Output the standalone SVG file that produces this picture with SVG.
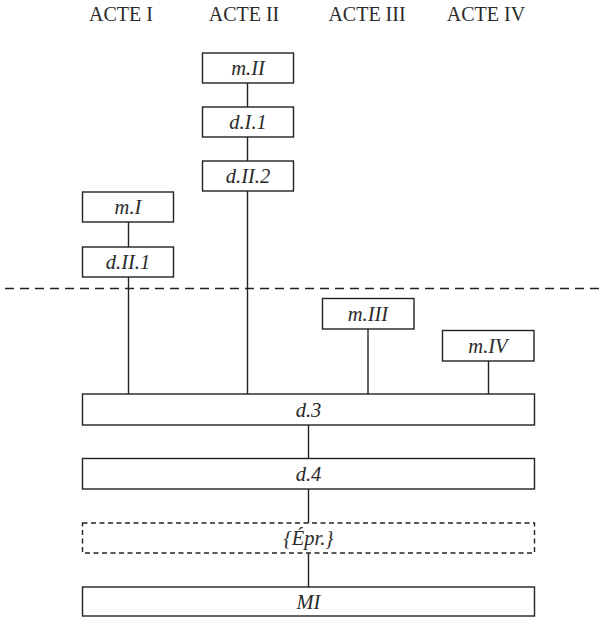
<svg xmlns="http://www.w3.org/2000/svg" width="605" height="617" viewBox="0 0 605 617">
<style>
.box{fill:#fff;stroke:#222;stroke-width:1.4}
.dbox{fill:#fff;stroke:#222;stroke-width:1.4;stroke-dasharray:5 3.5}
.ln{stroke:#222;stroke-width:1.4;fill:none}
.hd{font-family:'Liberation Serif','Times New Roman','DejaVu Serif',serif;font-size:20px;fill:#2a2a2a;text-anchor:middle}
.lb{font-family:'Liberation Serif','Times New Roman','DejaVu Serif',serif;font-style:italic;font-size:20.5px;fill:#2a2a2a;text-anchor:middle}
</style>
<rect width="605" height="617" fill="#fff"/>
<g id="headers">
<text class="hd" x="121" y="21">ACTE I</text>
<text class="hd" x="244" y="21">ACTE II</text>
<text class="hd" x="367" y="21">ACTE III</text>
<text class="hd" x="486" y="21">ACTE IV</text>
</g>
<g id="divider">
<line x1="5" y1="288.5" x2="605" y2="288.5" stroke="#222" stroke-width="1.4" stroke-dasharray="9 6"/>
</g>
<g id="connectors">
<line class="ln" x1="128.5" y1="222" x2="128.5" y2="247"/>
<line class="ln" x1="128.5" y1="277" x2="128.5" y2="394"/>
<line class="ln" x1="247.5" y1="83" x2="247.5" y2="107"/>
<line class="ln" x1="247.5" y1="137" x2="247.5" y2="161"/>
<line class="ln" x1="247.5" y1="191" x2="247.5" y2="394"/>
<line class="ln" x1="368" y1="329" x2="368" y2="394"/>
<line class="ln" x1="488.5" y1="361" x2="488.5" y2="394"/>
<line class="ln" x1="308.5" y1="425" x2="308.5" y2="458"/>
<line class="ln" x1="308.5" y1="489" x2="308.5" y2="523"/>
<line class="ln" x1="308.5" y1="553" x2="308.5" y2="587"/>
</g>
<g id="mII"><rect class="box" x="202.5" y="53" width="91" height="30"/><text class="lb" x="248" y="75">m.II</text></g>
<g id="dI1"><rect class="box" x="202.5" y="107" width="91" height="30"/><text class="lb" x="248" y="129">d.I.1</text></g>
<g id="dII2"><rect class="box" x="202.5" y="161" width="91" height="30"/><text class="lb" x="248" y="183">d.II.2</text></g>
<g id="mI"><rect class="box" x="82.5" y="192" width="91" height="30"/><text class="lb" x="128" y="214">m.I</text></g>
<g id="dII1"><rect class="box" x="82.5" y="247" width="91" height="30"/><text class="lb" x="128" y="269">d.II.1</text></g>
<g id="mIII"><rect class="box" x="322.5" y="298.5" width="91.5" height="30.5"/><text class="lb" x="368" y="320.5">m.III</text></g>
<g id="mIV"><rect class="box" x="442.5" y="330.5" width="91.5" height="30.5"/><text class="lb" x="488" y="352.5">m.IV</text></g>
<g id="d3"><rect class="box" x="82.5" y="394" width="452" height="31"/><text class="lb" x="308.5" y="416.5">d.3</text></g>
<g id="d4"><rect class="box" x="82.5" y="458.5" width="452" height="30.5"/><text class="lb" x="308.5" y="480.5">d.4</text></g>
<g id="epr"><rect class="dbox" x="82.5" y="523" width="452" height="30"/><text class="lb" x="308.5" y="544.5">{Épr.}</text></g>
<g id="MI"><rect class="box" x="82.5" y="587" width="452" height="29"/><text class="lb" x="308.5" y="608.5">MI</text></g>
</svg>
